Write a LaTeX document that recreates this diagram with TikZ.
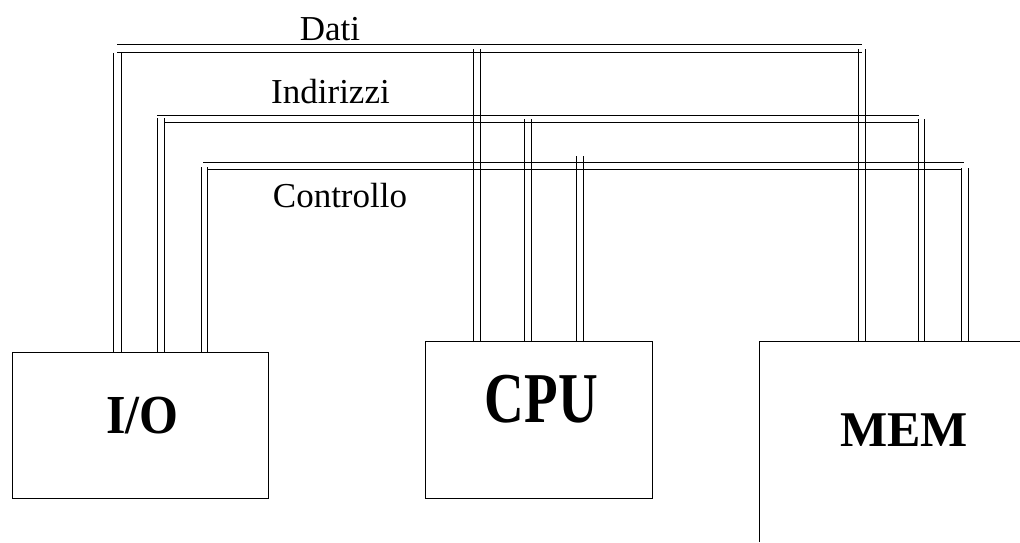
\documentclass[tikz,border=0pt]{standalone}
\usepackage{fontspec}
\setmainfont{Liberation Serif}
\usetikzlibrary{positioning}

\begin{document}
\begin{tikzpicture}[x=1pt,y=-1pt,bus/.style={line width=1pt},unit/.style={draw,line width=1pt,inner sep=0pt},unit label/.style={font=\fontsize{50}{50}\selectfont\bfseries,inner sep=0pt,anchor=base},bus label/.style={font=\fontsize{35}{35}\selectfont,inner sep=0pt,anchor=base}]

	\useasboundingbox (0,0) rectangle (1020,542);

	% units
	\node[unit,minimum width=256pt,minimum height=146pt] (io) at (140,425) {};
	\node[unit,minimum width=227pt,minimum height=157pt] (cpu) at (538.5,419.5) {};
	\coordinate (mem) at (759,341);
	\draw[line width=1pt] (mem |- 0,542) -- (mem) -- (1020,341);

	\node[unit label] (iolabel) at (142.5,433) {\scalebox{1}[1.1]{I/O}};
	\node[unit label] (cpulabel) at (541.5,422.5) {\fontsize{55}{55}\selectfont\scalebox{1}[1.3]{CPU}};
	\node[unit label] (memlabel) at (904,446) {MEM};

	\coordinate (iotop) at (io.north);
	\coordinate (cputop) at (cpu.north);

	% buses
	\foreach \n/\xa/\xb/\y in {dati1/117/862/44,dati2/117/862/52,ind1/157/919/115,ind2/164/919/122,ctl1/203/964/162,ctl2/207/962/169}
	{
		\coordinate (\n a) at (\xa,\y);
		\coordinate (\n b) at (\xb,\y);
		\draw[bus] (\n a) -- (\n b);
	}

	\foreach \x/\y/\t in {113/53/iotop,121/53/iotop,157/118/iotop,164/118/iotop,201/167/iotop,207/167/iotop,473/49/cputop,480/49/cputop,524/119/cputop,531/119/cputop,576/156/cputop,583/156/cputop,858/49/mem,865/49/mem,918/119/mem,924/119/mem,961/168/mem,968/168/mem}
		\draw[bus] (\x,\y) -- (\x,\y |- \t);

	\node[bus label] (dati) at (330,40) {Dati};
	\node[bus label] (ind) at (330.5,103) {Indirizzi};
	\node[bus label] (ctl) at (340,207) {Controllo};
\end{tikzpicture}
\end{document}
